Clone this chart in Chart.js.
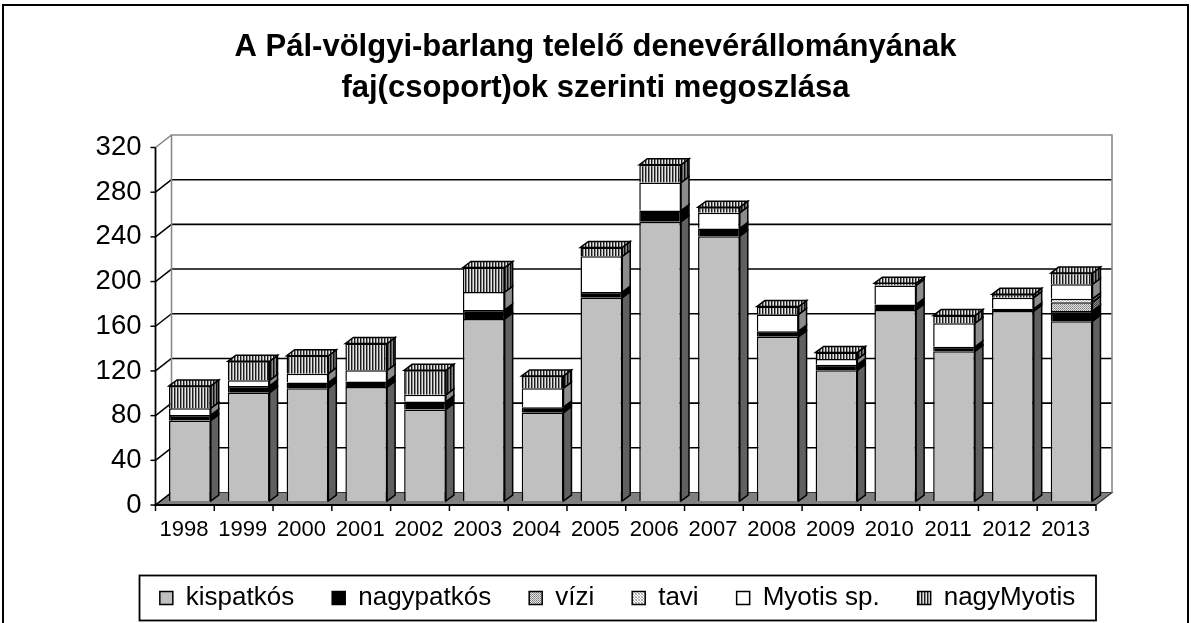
<!DOCTYPE html>
<html><head><meta charset="utf-8">
<script src="https://cdn.jsdelivr.net/npm/chart.js@4.4.1/dist/chart.umd.min.js"></script>
<style>html,body{margin:0;padding:0;background:#fff}canvas{display:block}</style>
</head><body>
<canvas id="c" width="1191" height="623"></canvas>
<script>
// ---- data ----
const years = ['1998','1999','2000','2001','2002','2003','2004','2005','2006','2007','2008','2009','2010','2011','2012','2013'];
const kispatkos  = [72, 97, 101, 102, 82, 163, 79, 182, 250, 237, 147, 117, 171, 134, 170, 161];
const nagypatkos = [5, 6, 5, 5, 7, 8, 5, 5, 10, 7, 5, 5, 5, 4, 2, 9];
const vizi       = [0, 0, 0, 0, 0, 0, 0, 0, 0, 0, 0, 0, 0, 0, 0, 8];
const tavi       = [0, 0, 0, 0, 0, 0, 0, 0, 0, 0, 0, 0, 0, 0, 0, 3];
const myotisSp   = [6, 5, 8, 10, 6, 16, 17, 32, 25, 14, 15, 5, 17, 21, 10, 13];
const nagyMyotis = [20, 17, 16, 24, 22, 22, 11, 8, 16, 5, 7, 6, 2, 7, 3, 10];
const seriesNames = ['kispatkós','nagypatkós','vízi','tavi','Myotis sp.','nagyMyotis'];
const yTicks = [0, 40, 80, 120, 160, 200, 240, 280, 320];
const titleLines = ['A Pál-völgyi-barlang telelő denevérállományának','faj(csoport)ok szerinti megoszlása'];

// ---- patterns ----
function makePattern(rows){
  const h = rows.length, w = rows[0].length;
  const c = document.createElement('canvas'); c.width = w; c.height = h;
  const g = c.getContext('2d');
  rows.forEach((r,y)=>r.forEach((col,x)=>{g.fillStyle=col;g.fillRect(x,y,1,1);}));
  return document.getElementById('c').getContext('2d').createPattern(c,'repeat');
}
const stripe = makePattern([['#1c1c1c','#8c8c8c','#e6e6e6']]);
const stripeDark = makePattern([['#0c0c0c','#505050','#8a8a8a']]);
const vizP = makePattern([['#7a7a7a','#e4e4e4'],['#e4e4e4','#9a9a9a']]);
const vizPD = makePattern([['#3a3a3a','#8a8a8a'],['#8a8a8a','#505050']]);
const taviP = makePattern([['#a8a8a8','#ffffff','#c8c8c8'],['#ffffff','#b8b8b8','#ffffff'],['#c8c8c8','#ffffff','#a8a8a8']]);
const taviPD = makePattern([['#5a5a5a','#8a8a8a','#6a6a6a'],['#8a8a8a','#606060','#8a8a8a'],['#6a6a6a','#8a8a8a','#5a5a5a']]);

const fronts = ['#c0c0c0','#000000',vizP,taviP,'#ffffff',stripe];
const sides  = ['#606060','#000000',vizPD,taviPD,'#8c8c8c',stripeDark];
const values = [kispatkos,nagypatkos,vizi,tavi,myotisSp,nagyMyotis];

const FONT = '"Liberation Sans", Arial, Helvetica, sans-serif';
const FR = {dx:-5, dy:4}, BK = {dx:11, dy:-8.5}, DP = {dx:8, dy:-6};

const threeD = {
  id:'threeD',
  beforeDraw(chart){
    const ctx = chart.ctx;
    ctx.save();
    ctx.fillStyle = '#fff'; ctx.fillRect(0,0,chart.width,chart.height);
    ctx.strokeStyle = '#000'; ctx.lineWidth = 2;
    ctx.strokeRect(3, 5, 1185, 700);
    ctx.restore();
  },
  afterLayout(chart){
    const lg = chart.legend;
    lg.left = 100; lg.right = 1135; lg.width = 1035;
  },
  beforeDatasetsDraw(chart){
    const ctx = chart.ctx, a = chart.chartArea, ys = chart.scales.y;
    const L = a.left, R = a.right, B = ys.getPixelForValue(0);
    ctx.save();
    // floor
    ctx.beginPath();
    ctx.moveTo(L+FR.dx, B+FR.dy); ctx.lineTo(R+FR.dx, B+FR.dy);
    ctx.lineTo(R+BK.dx, B+BK.dy); ctx.lineTo(L+BK.dx, B+BK.dy); ctx.closePath();
    ctx.fillStyle = '#808080'; ctx.fill();
    ctx.strokeStyle = '#333'; ctx.lineWidth = 1.2; ctx.stroke();
    // back wall grid lines
    yTicks.forEach(v=>{
      if (v===0 || v===320) return;
      const y = ys.getPixelForValue(v);
      ctx.beginPath(); ctx.moveTo(L+BK.dx, y+BK.dy); ctx.lineTo(R+BK.dx, y+BK.dy);
      ctx.strokeStyle = '#000'; ctx.lineWidth = 1.6; ctx.stroke();
    });
    // side wall diagonals
    yTicks.forEach(v=>{
      const y = ys.getPixelForValue(v);
      ctx.beginPath(); ctx.moveTo(L+FR.dx, y+FR.dy); ctx.lineTo(L+BK.dx, y+BK.dy);
      ctx.strokeStyle = (v===320) ? '#808080' : '#000'; ctx.lineWidth = 1.5; ctx.stroke();
    });
    // back wall border
    const T = ys.getPixelForValue(320);
    ctx.strokeStyle = '#8a8a8a'; ctx.lineWidth = 1.6;
    ctx.beginPath();
    ctx.moveTo(L+BK.dx, B+BK.dy); ctx.lineTo(L+BK.dx, T+BK.dy);
    ctx.lineTo(R+BK.dx, T+BK.dy); ctx.lineTo(R+BK.dx, B+BK.dy);
    ctx.stroke();
    ctx.restore();
  },
  afterDatasetsDraw(chart){
    const ctx = chart.ctx, a = chart.chartArea, ys = chart.scales.y;
    const L = a.left, R = a.right, B = ys.getPixelForValue(0);
    ctx.save();
    ctx.lineWidth = 1.5; ctx.strokeStyle = '#000'; ctx.lineJoin = 'miter';
    const n = years.length;
    const topIdx = [];
    for (let i=0;i<n;i++){ let t=-1; values.forEach((arr,di)=>{ if(arr[i]>0) t=di; }); topIdx.push(t); }
    chart.data.datasets.forEach((ds, di)=>{
      const meta = chart.getDatasetMeta(di);
      meta.data.forEach((bar, i)=>{
        const p = bar.getProps(['x','y','base','width'], true);
        const top = Math.min(p.y, p.base), bot = Math.max(p.y, p.base);
        if (bot - top < 0.5) return;
        const l = p.x - p.width/2, r = p.x + p.width/2;
        ctx.beginPath();
        ctx.moveTo(r, bot); ctx.lineTo(r, top); ctx.lineTo(r+DP.dx, top+DP.dy); ctx.lineTo(r+DP.dx, bot+DP.dy); ctx.closePath();
        ctx.fillStyle = sides[di]; ctx.fill(); ctx.stroke();
        if (topIdx[i] === di){
          ctx.beginPath();
          ctx.moveTo(l, top); ctx.lineTo(l+DP.dx, top+DP.dy); ctx.lineTo(r+DP.dx, top+DP.dy); ctx.lineTo(r, top); ctx.closePath();
          ctx.fillStyle = fronts[di]; ctx.fill(); ctx.stroke();
        }
      });
    });
    // front axes
    const xf = L+FR.dx, yb = B+FR.dy, yt = ys.getPixelForValue(320)+FR.dy;
    ctx.lineWidth = 1.8;
    ctx.beginPath(); ctx.moveTo(xf, yt); ctx.lineTo(xf, yb); ctx.lineTo(R+FR.dx, yb); ctx.stroke();
    ctx.lineWidth = 1.5;
    yTicks.forEach(v=>{
      const y = ys.getPixelForValue(v)+FR.dy;
      ctx.beginPath(); ctx.moveTo(xf-5, y); ctx.lineTo(xf, y); ctx.stroke();
    });
    const cw = (R-L)/n;
    for (let i=0;i<=n;i++){
      const x = L + FR.dx + i*cw;
      ctx.beginPath(); ctx.moveTo(x, yb); ctx.lineTo(x, yb+6); ctx.stroke();
    }
    ctx.restore();
  },
  afterDraw(chart){
    const ctx = chart.ctx;
    ctx.save();
    ctx.strokeStyle = '#000'; ctx.lineWidth = 1.8;
    ctx.strokeRect(139.5, 575.5, 956.5, 45);
    ctx.restore();
  }
};

Chart.defaults.color = '#000';
Chart.defaults.font.family = FONT;

new Chart(document.getElementById('c'), {
  type: 'bar',
  data: {
    labels: years,
    datasets: values.map((arr, di)=>({
      label: seriesNames[di],
      data: arr,
      backgroundColor: fronts[di],
      borderColor: '#000',
      borderWidth: 1.5,
      barPercentage: 0.71,
      categoryPercentage: 1.0
    }))
  },
  options: {
    responsive: false,
    animation: false,
    devicePixelRatio: 1,
    layout: { padding: {top:0, left:0, right:0, bottom:2} },
    plugins: {
      tooltip: {enabled:false},
      title: {
        display: true,
        text: titleLines,
        color: '#000',
        font: {family: FONT, size: 31, weight: 'bold', lineHeight: '41px'},
        padding: {top: 26.5, bottom: 35}
      },
      legend: {
        display: true,
        position: 'bottom',
        align: 'center',
        labels: {
          boxWidth: 13, boxHeight: 13, padding: 38,
          color: '#000',
          font: {family: FONT, size: 26}
        }
      }
    },
    scales: {
      x: {
        stacked: true,
        grid: {display:false, drawTicks:false},
        border: {display:false},
        ticks: {font:{family:FONT, size:22}, padding:16, labelOffset:-6, maxRotation:0, autoSkip:false},
        afterFit(s){ s.height = 46; }
      },
      y: {
        stacked: true,
        min: 0, max: 320,
        grid: {display:false, drawTicks:false},
        border: {display:false},
        ticks: {stepSize: 40, font:{family:FONT, size:27.5}, padding:19, labelOffset:4},
        afterFit(s){ s.width = 160.5; }
      },
      y2: {
        position: 'right',
        display: true,
        grid: {display:false, drawTicks:false},
        border: {display:false},
        ticks: {display:false},
        afterFit(s){ s.width = 90; }
      }
    }
  },
  plugins: [threeD]
});
</script>
</body></html>
